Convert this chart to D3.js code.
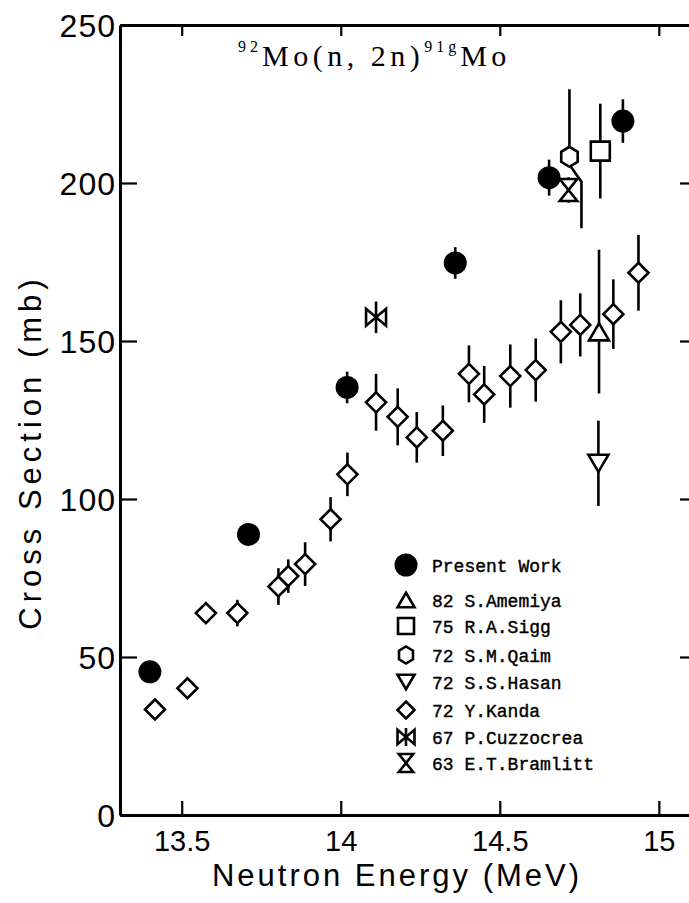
<!DOCTYPE html>
<html>
<head>
<meta charset="utf-8">
<script src="https://cdn.jsdelivr.net/npm/d3@7"></script>
<style>
  body { margin: 0; background: #fff; }
  svg { display: block; }
</style>
</head>
<body>
<div id="chart"></div>
<script>
// data (energy in MeV, cross section in mb)
var presentE = [13.40, 13.71, 14.02, 14.36, 14.655, 14.887];
var presentV = [45.3, 88.8, 135.3, 174.7, 201.7, 219.6];
var presentErr = [3, 3, 5, 5, 5.7, 6.9];

var kandaE = [13.416, 13.518, 13.576, 13.675, 13.804, 13.835, 13.888, 13.968, 14.021, 14.111, 14.179,
              14.239, 14.321, 14.403, 14.451, 14.533, 14.613, 14.692, 14.753, 14.857, 14.936];
var kandaV = [33.4, 40.1, 63.9, 63.9, 72.3, 75.6, 79.4, 93.6, 107.8, 130.6, 126.0,
              119.5, 121.6, 139.6, 133.1, 138.9, 140.8, 152.9, 155.1, 158.5, 171.6];
var kandaErr = [0, 0, 0, 4.2, 5.8, 5.3, 6.9, 7, 6.9, 9, 9,
                8, 8, 9, 9, 10, 10, 10, 10, 11, 12];

var amemiyaE = [14.812], amemiyaV = [152.9], amemiyaErrHi = [26], amemiyaErrLo = [19.5];
var siggE = [14.816], siggV = [210.1], siggErr = [15];
var qaimE = [14.719], qaimV = [208.3], qaimErrHi = [21.4], qaimErrLo = [22.6];
var hasanE = [14.81], hasanV = [111.3], hasanErr = [13.5];
var cuzzE = [14.111], cuzzV = [157.5], cuzzErr = [5];
var bramE = [14.716], bramV = [197.8], bramErr = [4];

var legendLabels = ["Present Work", "82 S.Amemiya", "75 R.A.Sigg", "72 S.M.Qaim",
                    "72 S.S.Hasan", "72 Y.Kanda", "67 P.Cuzzocrea", "63 E.T.Bramlitt"];
var xTicks = [13.5, 14, 14.5, 15];
var xTickLabels = ["13.5", "14", "14.5", "15"];
var yTicks = [0, 50, 100, 150, 200, 250];

var W = 689, H = 903;
var margin = { top: 25, right: -1, bottom: 88, left: 120 };
var width = W - margin.left - margin.right,
    height = H - margin.top - margin.bottom;

var svg = d3.select("#chart").append("svg")
    .attr("width", W)
    .attr("height", H);

var g = svg.append("g")
    .attr("transform", "translate(" + margin.left + "," + margin.top + ")");

var x = d3.scaleLinear().domain([13.306, 15.098]).range([0, width]);
var y = d3.scaleLinear().domain([0, 250]).range([height, 0]);

var ink = "#000";
var lw = 2.6;

// frame with inward ticks
var tickLen = 14;
g.append("g").attr("transform", "translate(0," + height + ")")
    .call(d3.axisBottom(x).tickValues(xTicks).tickSizeInner(-tickLen).tickSizeOuter(0).tickFormat(function(d, i) { return xTickLabels[i]; }))
    .call(function(a) {
        a.select(".domain").attr("stroke-width", 3);
        a.selectAll(".tick line").attr("stroke-width", 2.2);
        a.selectAll(".tick text").attr("font-family", "Liberation Sans, Arial, sans-serif")
            .attr("font-size", 29).attr("fill", ink).attr("y", 15).attr("dy", "0.71em");
    });
g.append("g")
    .call(d3.axisTop(x).tickValues(xTicks).tickSizeInner(-11).tickSizeOuter(0).tickFormat(""))
    .call(function(a) {
        a.select(".domain").attr("stroke-width", 3);
        a.selectAll(".tick line").attr("stroke-width", 2.2);
    });
g.append("g")
    .call(d3.axisLeft(y).tickValues(yTicks).tickSizeInner(-17).tickSizeOuter(0))
    .call(function(a) {
        a.select(".domain").attr("stroke-width", 3);
        a.selectAll(".tick line").attr("stroke-width", 2.2);
        a.selectAll(".tick text").attr("font-family", "Liberation Sans, Arial, sans-serif")
            .attr("font-size", 32).attr("fill", ink).attr("x", -4).attr("dy", "0.36em")
            .attr("letter-spacing", 1);
    });
g.append("g").attr("transform", "translate(" + width + ",0)")
    .call(d3.axisRight(y).tickValues(yTicks).tickSizeInner(-10).tickSizeOuter(0).tickFormat(""))
    .call(function(a) {
        a.select(".domain").attr("stroke-width", 3);
        a.selectAll(".tick line").attr("stroke-width", 2.2);
    });

// axis titles
svg.append("text")
    .attr("x", 397).attr("y", 886)
    .attr("text-anchor", "middle")
    .attr("font-family", "Liberation Sans, Arial, sans-serif")
    .attr("font-size", 31)
    .attr("letter-spacing", 3)
    .text("Neutron Energy (MeV)");

svg.append("text")
    .attr("transform", "translate(41,452) rotate(-90)")
    .attr("text-anchor", "middle")
    .attr("font-family", "Liberation Sans, Arial, sans-serif")
    .attr("font-size", 31)
    .attr("letter-spacing", 5)
    .text("Cross Section (mb)");

// reaction label
var title = svg.append("text")
    .attr("x", 238).attr("y", 66)
    .attr("font-family", "Liberation Serif, Times New Roman, serif")
    .attr("fill", ink);
title.append("tspan").attr("font-size", 16).attr("letter-spacing", 4).attr("dy", -14).text("92");
title.append("tspan").attr("font-size", 30).attr("letter-spacing", 4.5).attr("dy", 14).text("Mo(n, 2n)");
title.append("tspan").attr("font-size", 16).attr("letter-spacing", 4).attr("dy", -14).text("91g");
title.append("tspan").attr("font-size", 30).attr("letter-spacing", 4.5).attr("dy", 14).text("Mo");

// marker shapes
var shapes = {
    circle: function(s) { return d3.symbol().type(d3.symbolCircle).size(Math.PI * s * s)(); },
    up: function(s) { return "M0," + (-s * 0.85) + "L" + s + "," + (s * 0.85) + "L" + (-s) + "," + (s * 0.85) + "Z"; },
    down: function(s) { return "M0," + (s * 0.85) + "L" + s + "," + (-s * 0.85) + "L" + (-s) + "," + (-s * 0.85) + "Z"; },
    square: function(s) { return "M" + (-s) + "," + (-s) + "H" + s + "V" + s + "H" + (-s) + "Z"; },
    hexagon: function(s) {
        var p = d3.range(6).map(function(i) {
            var a = Math.PI / 3 * i;
            return [s * Math.sin(a) * 0.95, -s * Math.cos(a)];
        });
        return "M" + p.join("L") + "Z";
    },
    diamond: function(s) { return "M0," + (-s) + "L" + s + ",0L0," + s + "L" + (-s) + ",0Z"; },
    bowtie: function(s) { return "M" + (-s) + "," + (-s * 0.85) + "L" + s + "," + (s * 0.85) + "V" + (-s * 0.85) + "L" + (-s) + "," + (s * 0.85) + "Z"; },
    hourglass: function(s) { return "M" + (-s * 0.8) + "," + (-s) + "H" + (s * 0.8) + "L" + (-s * 0.8) + "," + s + "H" + (s * 0.8) + "Z"; }
};

function zip(es, vs, lo, hi) {
    return es.map(function(e, i) { return { e: e, v: vs[i], lo: lo[i], hi: hi[i] }; });
}

function series(data, shape, size, filled) {
    var s = g.append("g");
    s.selectAll("line.err")
        .data(data.filter(function(d) { return d.lo > 0 || d.hi > 0; }))
        .enter().append("line")
        .attr("class", "err")
        .attr("x1", function(d) { return x(d.e); })
        .attr("x2", function(d) { return x(d.e); })
        .attr("y1", function(d) { return y(d.v + d.hi); })
        .attr("y2", function(d) { return y(d.v - d.lo); })
        .attr("stroke", ink)
        .attr("stroke-width", lw);
    s.selectAll("path.mark")
        .data(data)
        .enter().append("path")
        .attr("class", "mark")
        .attr("transform", function(d) { return "translate(" + x(d.e) + "," + y(d.v) + ")"; })
        .attr("d", shapes[shape](size))
        .attr("fill", filled ? ink : "#fff")
        .attr("stroke", ink)
        .attr("stroke-width", filled ? 0 : lw)
        .attr("stroke-linejoin", "miter");
    return s;
}

series(zip(kandaE, kandaV, kandaErr, kandaErr), "diamond", 10, false);
series(zip(amemiyaE, amemiyaV, amemiyaErrLo, amemiyaErrHi), "up", 10, false);
series(zip(hasanE, hasanV, hasanErr, hasanErr), "down", 10, false);
series(zip(siggE, siggV, siggErr, siggErr), "square", 9.5, false);
series(zip(cuzzE, cuzzV, cuzzErr, cuzzErr), "bowtie", 10, false);
series(zip(bramE, bramV, bramErr, bramErr), "hourglass", 11, false);

// qaim: lower error bar is bent sideways around the bramlitt point
var qaim = zip(qaimE, qaimV, qaimErrLo, qaimErrHi);
g.selectAll("path.qbar")
    .data(qaim)
    .enter().append("path")
    .attr("class", "qbar")
    .attr("d", function(d) {
        var cx = x(d.e), cy = y(d.v);
        return "M" + cx + "," + y(d.v + d.hi) + "V" + cy +
            "M" + cx + "," + (cy + 8) + "L" + (cx + 12) + "," + (cy + 25) + "V" + y(d.v - d.lo);
    })
    .attr("fill", "none")
    .attr("stroke", ink)
    .attr("stroke-width", lw);
series(qaim.map(function(d) { return { e: d.e, v: d.v, lo: 0, hi: 0 }; }), "hexagon", 10, false);

series(zip(presentE, presentV, presentErr, presentErr), "circle", 11.5, true);

// legend
var legendShapes = ["circle", "up", "square", "hexagon", "down", "diamond", "bowtie", "hourglass"];
var legendSizes = [11.5, 8.5, 8, 8.5, 8.5, 8.5, 8.5, 9];
var legendY = [565, 600, 626, 655, 682, 710, 737, 763];
var legend = svg.append("g");
legendLabels.forEach(function(label, i) {
    var row = legend.append("g").attr("transform", "translate(406," + legendY[i] + ")");
    row.append("path")
        .attr("d", shapes[legendShapes[i]](legendSizes[i]))
        .attr("fill", i === 0 ? ink : "#fff")
        .attr("stroke", ink)
        .attr("stroke-width", i === 0 ? 0 : lw);
    if (legendShapes[i] === "bowtie") {
        row.append("line").attr("y1", -9).attr("y2", 9).attr("stroke", ink).attr("stroke-width", lw);
    }
    row.append("text")
        .attr("x", 26).attr("y", 7)
        .attr("font-family", "Liberation Mono, DejaVu Sans Mono, monospace")
        .attr("font-size", 18)
        .attr("stroke", ink)
        .attr("stroke-width", 0.4)
        .text(label);
});
</script>
</body>
</html>
